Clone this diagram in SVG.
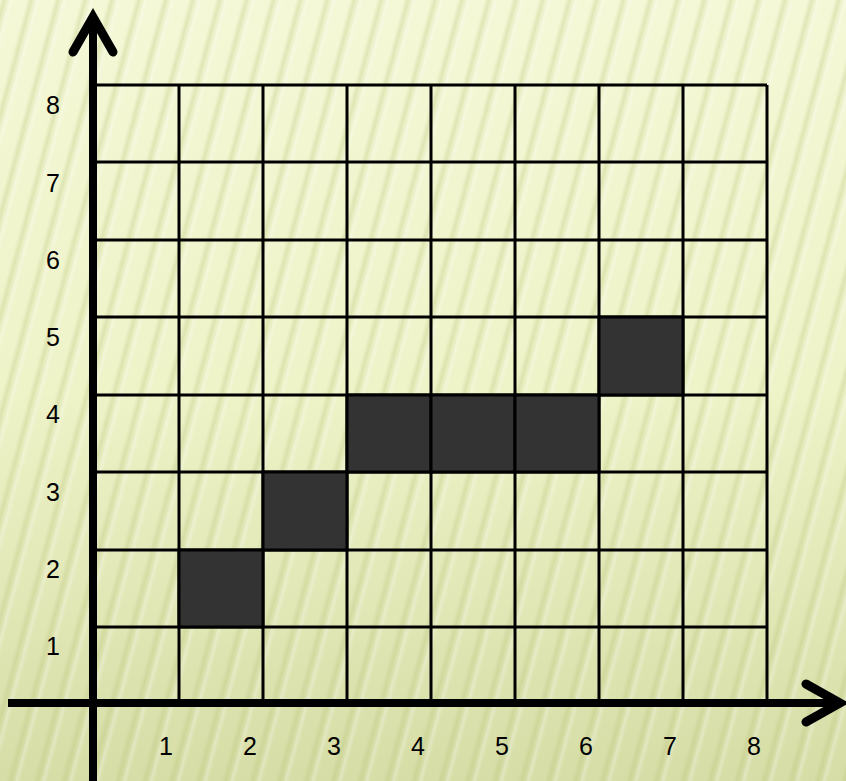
<svg xmlns="http://www.w3.org/2000/svg" width="846" height="781" viewBox="0 0 846 781">
<defs>
<linearGradient id="bg" x1="0" y1="0" x2="0" y2="1">
<stop offset="0" stop-color="#f4f8d6"/>
<stop offset="0.5" stop-color="#eef3c8"/>
<stop offset="1" stop-color="#d6dda6"/>
</linearGradient>
<linearGradient id="sg" x1="0" y1="0" x2="1" y2="0">
<stop offset="0" stop-color="#b9c27a" stop-opacity="0"/>
<stop offset="0.3" stop-color="#b9c27a" stop-opacity="0.35"/>
<stop offset="0.5" stop-color="#b9c27a" stop-opacity="0.1"/>
<stop offset="0.7" stop-color="#ffffff" stop-opacity="0.3"/>
<stop offset="1" stop-color="#ffffff" stop-opacity="0"/>
</linearGradient>
<pattern id="streaks" width="26" height="80" patternUnits="userSpaceOnUse" patternTransform="rotate(15)">
<rect x="0" y="0" width="14" height="80" fill="url(#sg)"/>
</pattern>
<style>
.grid{stroke:#000;stroke-width:3;fill:none}
.cell{fill:#333333;stroke:#000;stroke-width:3}
.axis{stroke:#000;stroke-width:8;fill:none}
.head{stroke:#000;stroke-width:9;fill:none;stroke-linecap:round;stroke-linejoin:miter}
.lbl{font-family:"Liberation Sans",Arial,sans-serif;font-size:25px;fill:#000;text-anchor:middle}
</style>
</defs>
<rect width="846" height="781" fill="url(#bg)"/>
<rect width="846" height="781" fill="url(#streaks)"/>
<g id="grid">
<path class="grid" d="M93 85H767M93 162H767M93 240H767M93 317H767M93 395H767M93 472H767M93 550H767M93 627H767"/>
<path class="grid" d="M179 85V703M263 85V703M347 85V703M431 85V703M515 85V703M599 85V703M683 85V703M767 85V703"/>
</g>
<g id="cells">
<rect id="c12" class="cell" x="179" y="550" width="84" height="77"/>
<rect id="c23" class="cell" x="263" y="472" width="84" height="78"/>
<rect id="c34" class="cell" x="347" y="395" width="84" height="77"/>
<rect id="c44" class="cell" x="431" y="395" width="84" height="77"/>
<rect id="c54" class="cell" x="515" y="395" width="84" height="77"/>
<rect id="c65" class="cell" x="599" y="317" width="84" height="78"/>
</g>
<g id="axes">
<line class="axis" x1="93" y1="781" x2="93" y2="18"/>
<line class="axis" x1="8" y1="703" x2="838" y2="703"/>
<polyline class="head" points="73,52 93,17 113,52"/>
<polyline class="head" points="806,684 840,703 806,722"/>
</g>
<g id="ylabels">
<text class="lbl" x="53" y="114">8</text>
<text class="lbl" x="53" y="192">7</text>
<text class="lbl" x="53" y="269">6</text>
<text class="lbl" x="53" y="346">5</text>
<text class="lbl" x="53" y="423">4</text>
<text class="lbl" x="53" y="501">3</text>
<text class="lbl" x="53" y="578">2</text>
<text class="lbl" x="53" y="655">1</text>
</g>
<g id="xlabels">
<text class="lbl" x="166" y="755">1</text>
<text class="lbl" x="250" y="755">2</text>
<text class="lbl" x="334" y="755">3</text>
<text class="lbl" x="418" y="755">4</text>
<text class="lbl" x="502" y="755">5</text>
<text class="lbl" x="586" y="755">6</text>
<text class="lbl" x="670" y="755">7</text>
<text class="lbl" x="754" y="755">8</text>
</g>
</svg>
